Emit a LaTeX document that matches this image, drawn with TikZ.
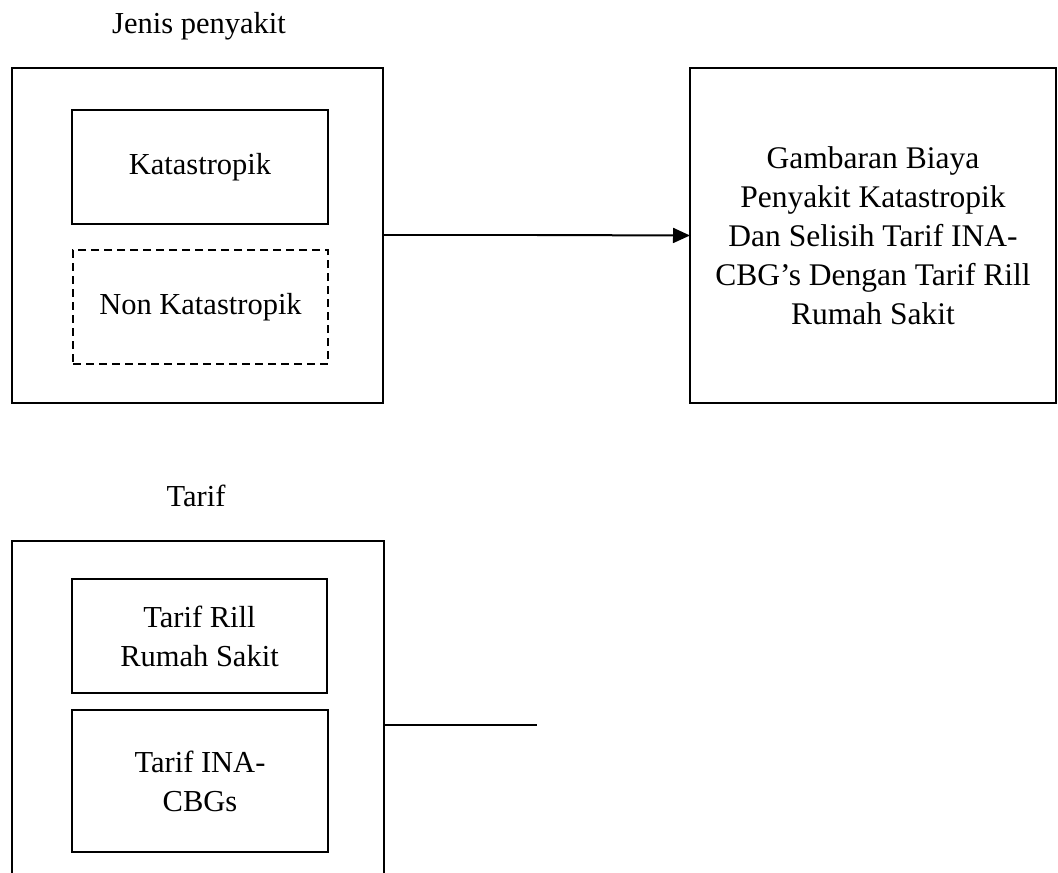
\documentclass[tikz,border=0pt]{standalone}
\usepackage{fontspec}
\setmainfont{Liberation Serif}
\usetikzlibrary{arrows.meta}
\begin{document}
\begin{tikzpicture}[x=1pt,y=-1pt,
  txt/.style={font=\fontsize{30.5}{39}\selectfont},
  box/.style={draw, line width=2pt, inner sep=0pt, outer sep=0pt, align=center, txt},
  dashbox/.style={box, dash pattern=on 8pt off 5pt},
  lab/.style={txt, inner sep=0pt},
  conn/.style={line width=2pt},
  tip/.style={-{Triangle[length=17pt,width=15pt]}}]
\useasboundingbox (0,0) rectangle (1058,873);
\clip (0,0) rectangle (1058,873);
% top group
\node[lab] (t1) at (199,26) {Jenis penyakit};
\node[box, minimum width=371pt, minimum height=335pt] (b1) at (197,235) {};
\node[box, minimum width=256pt, minimum height=114pt] (kat) at (200,167) {Katastropik};
\node[dashbox, minimum width=255pt, minimum height=114pt] (non) at (200.5,307) {Non Katastropik};
% result
\node[box, minimum width=366pt, minimum height=335pt, font=\fontsize{31.5}{39}\selectfont] (res) at (873,235.5)
  {Gambaran Biaya\\Penyakit Katastropik\\Dan Selisih Tarif INA-\\CBG’s Dengan Tarif Rill\\Rumah Sakit};
% bottom group
\node[lab] (t2) at (196,496) {Tarif};
\node[box, minimum width=372pt, minimum height=350pt] (b2) at (198,716) {};
\node[box, minimum width=255pt, minimum height=114pt] (rill) at (199.5,636) {Tarif Rill\\Rumah Sakit};
\node[box, minimum width=256pt, minimum height=142pt] (ina) at (200,781) {Tarif INA-\\CBGs};
% connectors
\coordinate (m1) at (537,235);
\coordinate (m2) at (537,725);
\draw[conn] (b1.east |- m1) -- (m1);
\draw[conn, tip] (m1) -- (res.west);
\draw[conn] (b2.east |- m2) -- (m2);
\end{tikzpicture}
\end{document}
